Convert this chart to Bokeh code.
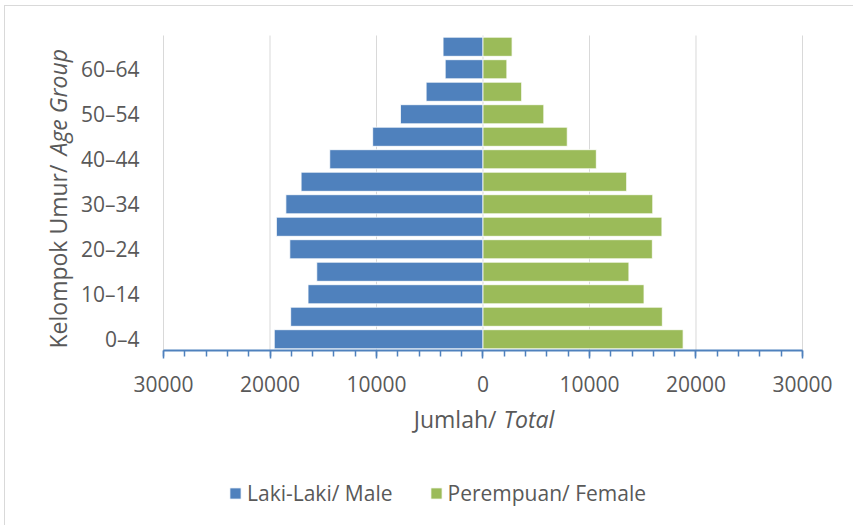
import math
from bokeh.plotting import figure
from bokeh.models import (Range1d, SingleIntervalTicker, FixedTicker, Label,
                          Legend, LegendItem)
from bokeh.embed import file_html
from bokeh.resources import INLINE

# ---- data ----
age_groups = ["0–4", "5–9", "10–14", "15–19", "20–24", "25–29", "30–34",
              "35–39", "40–44", "45–49", "50–54", "55–59", "60–64", "65+"]
male = [19600, 18060, 16430, 15610, 18140, 19400, 18510,
        17080, 14390, 10360, 7750, 5340, 3550, 3750]
female = [18790, 16840, 15120, 13700, 15900, 16800, 15940,
          13490, 10640, 7910, 5710, 3630, 2240, 2730]
x_ticks = [-30000, -20000, -10000, 0, 10000, 20000, 30000]
x_tick_labels = ["30000", "20000", "10000", "0", "10000", "20000", "30000"]
y_tick_idx = [0, 2, 4, 6, 8, 10, 12]

TXT = "#595959"
FONT = "Open Sans"
BLUE = "#4F81BD"
GREEN = "#9BBB59"
GRID = "#d9d9d9"

X_MIN, X_MAX = x_ticks[0], x_ticks[-1]
Y_LO, Y_HI = -0.5, len(age_groups) - 0.5

W, H = 849, 520
p = figure(width=W, height=H, output_backend="svg", toolbar_location=None,
           x_range=Range1d(-44836, 34883), y_range=Range1d(-8.322, 14.789),
           min_border=0)
p.outline_line_color = None
p.styles = {"margin-left": "4px", "margin-top": "5px",
            "border-left": "1px solid #d9d9d9", "border-top": "1px solid #d9d9d9"}
p.xgrid.grid_line_color = None
p.ygrid.grid_line_color = None

# vertical gridlines at the x ticks, spanning the category band
p.segment(x0=x_ticks, y0=Y_LO, x1=x_ticks, y1=Y_HI, line_color=GRID, line_width=1)

ypos = list(range(len(age_groups)))
rm = p.hbar(y=ypos, left=[-v for v in male], right=0, height=0.85,
            fill_color=BLUE, line_color="white", line_width=0.8)
rf = p.hbar(y=ypos, left=0, right=female, height=0.85,
            fill_color=GREEN, line_color="white", line_width=0.8)

# x axis (fixed at bottom of the category band)
xa = p.xaxis[0]
xa.fixed_location = Y_LO
xa.bounds = (X_MIN, X_MAX)
xa.ticker = SingleIntervalTicker(interval=10000, num_minor_ticks=5)
xa.major_label_overrides = {t: l for t, l in zip(x_ticks, x_tick_labels)}
xa.axis_line_color = BLUE
xa.axis_line_width = 2
xa.major_tick_line_color = BLUE
xa.minor_tick_line_color = BLUE
xa.major_tick_line_width = 1.5
xa.minor_tick_line_width = 1.5
xa.major_tick_in = 0
xa.major_tick_out = 8
xa.minor_tick_in = 0
xa.minor_tick_out = 6
xa.major_label_text_font = FONT
xa.major_label_text_font_size = "21px"
xa.major_label_text_color = TXT
xa.major_label_standoff = 17

# y axis (fixed at left edge of the value range)
ya = p.yaxis[0]
ya.fixed_location = X_MIN
ya.bounds = (Y_LO, Y_HI)
ya.ticker = FixedTicker(ticks=y_tick_idx)
ya.major_label_overrides = {i: age_groups[i] for i in y_tick_idx}
ya.axis_line_color = None
ya.major_tick_line_color = None
ya.minor_tick_line_color = None
ya.major_tick_out = 0
ya.major_tick_in = 0
ya.major_label_text_font = FONT
ya.major_label_text_font_size = "21px"
ya.major_label_text_color = TXT
ya.major_label_standoff = 24

# axis titles (mixed upright / italic)
common = dict(x_units="screen", y_units="screen", text_font=FONT,
              text_color=TXT, text_font_size="23px")
p.add_layout(Label(x=52, y=178, text="Kelompok Umur/", angle=math.pi / 2,
                   text_align="left", text_baseline="middle", **common))
p.add_layout(Label(x=52, y=371, text="Age Group", angle=math.pi / 2,
                   text_align="left", text_baseline="middle",
                   text_font_style="italic", **common))
p.add_layout(Label(x=491, y=108, text="Jumlah/", text_align="right",
                   text_baseline="middle", **common))
p.add_layout(Label(x=498, y=108, text="Total", text_align="left",
                   text_baseline="middle", text_font_style="italic", **common))

legend = Legend(items=[LegendItem(label="Laki-Laki/ Male", renderers=[rm]),
                       LegendItem(label="Perempuan/ Female", renderers=[rf])],
                location=(223, 19), orientation="horizontal",
                glyph_width=14, glyph_height=14, label_standoff=5,
                spacing=36, padding=0, margin=0,
                border_line_color=None, background_fill_alpha=0,
                label_text_font=FONT, label_text_font_size="21px",
                label_text_color=TXT)
p.add_layout(legend, "center")

open("out.html", "w").write(file_html(p, INLINE))
